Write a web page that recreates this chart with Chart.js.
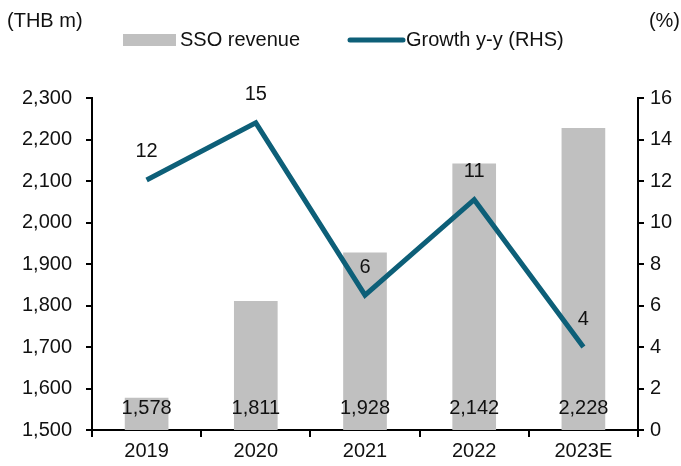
<!DOCTYPE html>
<html>
<head>
<meta charset="utf-8">
<script src="https://cdn.jsdelivr.net/npm/chart.js@4"></script>
<style>
  html, body { margin: 0; padding: 0; background: #fff; }
  canvas { display: block; }
</style>
</head>
<body>
<canvas id="chart" width="681" height="466"></canvas>
<script>
// chart data
const years = ["2019", "2020", "2021", "2022", "2023E"];
const revenue = [1578, 1811, 1928, 2142, 2228];
const growth = [12.05, 14.8, 6.5, 11.1, 4.0];
const growthLabels = ["12", "15", "6", "11", "4"];

const FONT = "'Liberation Sans', Arial, sans-serif";
const TXT = "#111";
const BAR = "#c0c0c0";
const LINE = "#0d5f78";

// value labels + legend + axis units
const annotate = {
    id: "annotate",
    afterDatasetsDraw(chart) {
        const ctx = chart.ctx;
        const area = chart.chartArea;
        ctx.save();
        ctx.font = "20px " + FONT;
        ctx.fillStyle = TXT;
        ctx.textAlign = "center";
        ctx.textBaseline = "middle";

        chart.getDatasetMeta(0).data.forEach((bar, i) => {
            ctx.fillText(revenue[i].toLocaleString("en-US"), bar.x, area.bottom - 22);
        });
        chart.getDatasetMeta(1).data.forEach((pt, i) => {
            ctx.fillText(growthLabels[i], pt.x, pt.y - 28);
        });

        // axis units
        ctx.textAlign = "left";
        ctx.fillText("(THB m)", 7, 21);
        ctx.textAlign = "right";
        ctx.fillText("(%)", 680, 21);

        // legend
        const ly = 40;
        ctx.fillStyle = BAR;
        ctx.fillRect(123, ly - 6, 53, 12);
        ctx.strokeStyle = LINE;
        ctx.lineWidth = 5;
        ctx.lineCap = "round";
        ctx.beginPath();
        ctx.moveTo(350, ly);
        ctx.lineTo(403, ly);
        ctx.stroke();
        ctx.fillStyle = TXT;
        ctx.textAlign = "left";
        ctx.fillText(chart.data.datasets[0].label, 180, ly);
        ctx.fillText(chart.data.datasets[1].label, 406, ly);
        ctx.restore();
    }
};

const axisBase = {
    grid: { drawOnChartArea: false, drawTicks: true, tickLength: 6, color: "#000", lineWidth: 2 },
    border: { display: true, color: "#000", width: 2 },
    ticks: { color: TXT, font: { family: FONT, size: 20 } }
};

new Chart(document.getElementById("chart"), {
    type: "bar",
    data: {
        labels: years,
        datasets: [
            {
                label: "SSO revenue",
                data: revenue,
                backgroundColor: BAR,
                categoryPercentage: 0.4,
                barPercentage: 1.0,
                yAxisID: "y",
                order: 2
            },
            {
                type: "line",
                label: "Growth y-y (RHS)",
                data: growth,
                borderColor: LINE,
                borderWidth: 5,
                pointRadius: 0,
                tension: 0,
                yAxisID: "y1",
                order: 1
            }
        ]
    },
    options: {
        responsive: false,
        animation: false,
        layout: { padding: { top: 98 } },
        plugins: {
            legend: { display: false },
            tooltip: { enabled: false }
        },
        scales: {
            x: {
                ...axisBase,
                grid: { ...axisBase.grid, tickLength: 7, offset: true },
                ticks: { ...axisBase.ticks, padding: 2 },
                afterFit(scale) { scale.height = 36; }
            },
            y: {
                ...axisBase,
                position: "left",
                min: 1500,
                max: 2300,
                ticks: {
                    ...axisBase.ticks,
                    stepSize: 100,
                    padding: 14,
                    callback: v => v.toLocaleString("en-US")
                },
                afterFit(scale) { scale.width = 92; }
            },
            y1: {
                ...axisBase,
                position: "right",
                min: 0,
                max: 16,
                ticks: { ...axisBase.ticks, stepSize: 2, padding: 6 },
                afterFit(scale) { scale.width = 43; }
            }
        }
    },
    plugins: [annotate]
});
</script>
</body>
</html>
